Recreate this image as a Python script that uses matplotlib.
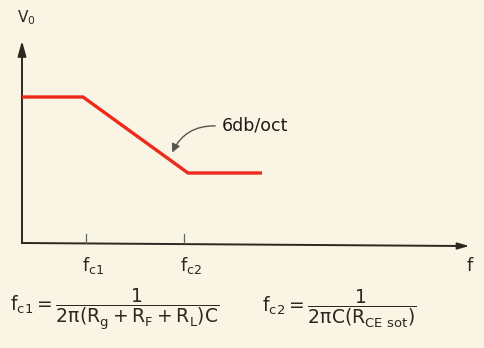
import matplotlib
matplotlib.use("Agg")
import matplotlib.pyplot as plt
from matplotlib.patches import FancyArrowPatch

plt.rcParams['mathtext.fontset'] = 'dejavusans'

# data (arbitrary frequency / level units)
resp_f = [0, 61, 166, 240]
resp_v = [146, 146, 70, 70]
tick_pos = [64, 162]
tick_labels = [r'$\mathregular{f_{c1}}$', r'$\mathregular{f_{c2}}$']
slope_label = "6db/oct"

W, H = 485, 348
BG = '#f9f4e3'
INK = '#2e2620'
RED = '#ee2a1c'

fig = plt.figure(figsize=(W / 100, H / 100), dpi=100, facecolor=BG)

def fx(px):
    return px / W

def fy(py):
    return 1 - py / H

# plot axes: origin at pixel (22, 243), x to 470, y to 38
ax = fig.add_axes([fx(22), fy(243), fx(470) - fx(22), fy(38) - fy(243)])
ax.set_facecolor('none')
ax.set_xlim(0, 448)
ax.set_ylim(0, 205)
for s in ax.spines.values():
    s.set_visible(False)
ax.set_xticks([])
ax.set_yticks([])

# axes lines with arrows
ax.plot([0, 0], [0, 196], color=INK, lw=1.4, clip_on=False, solid_capstyle='butt')
ax.annotate('', xy=(0, 205), xytext=(0, 190),
            arrowprops=dict(arrowstyle='-|>,head_length=0.9,head_width=0.25', color=INK, lw=1.4),
            annotation_clip=False)
ax.plot([0, 440], [0, -3], color=INK, lw=1.4, clip_on=False)
ax.annotate('', xy=(450, -3), xytext=(436, -3),
            arrowprops=dict(arrowstyle='-|>,head_length=0.7,head_width=0.2', color=INK, lw=1.2,
                            facecolor=BG),
            annotation_clip=False)

# ticks
for t in tick_pos:
    ax.plot([t, t], [0, 9], color='#5a6a60', lw=0.9, clip_on=False)

# response
ax.plot(resp_f, resp_v, color=RED, lw=2.4, solid_capstyle='butt', solid_joinstyle='miter', clip_on=False)

# slope annotation
arr = FancyArrowPatch((196, 117), (149, 88), connectionstyle='arc3,rad=0.35',
                      arrowstyle='-|>,head_length=5,head_width=2.5', color='#555550', lw=1.0)
ax.add_patch(arr)
ax.text(200, 118, slope_label, fontsize=12.5, color='#1e1a16', va='center', ha='left')

# labels
fig.text(fx(17), fy(18), r'$\mathregular{V_0}$', fontsize=11, color=INK, ha='left', va='center')
fig.text(fx(82), fy(266), tick_labels[0], fontsize=13, color=INK, ha='left', va='center')
fig.text(fx(180), fy(266), tick_labels[1], fontsize=13, color=INK, ha='left', va='center')
fig.text(fx(466), fy(266), r'$\mathregular{f}$', fontsize=13, color=INK, ha='left', va='center')

fig.text(fx(10), fy(309), r'$\mathregular{f_{c1} = \dfrac{1}{2\pi(R_g+R_F+R_L)C}}$', fontsize=13.5,
         color=INK, ha='left', va='center')
fig.text(fx(262), fy(309), r'$\mathregular{f_{c2} = \dfrac{1}{2\pi C(R_{CE\ sot})}}$', fontsize=13.5,
         color=INK, ha='left', va='center')

fig.savefig('out.png', dpi=100, facecolor=BG)
